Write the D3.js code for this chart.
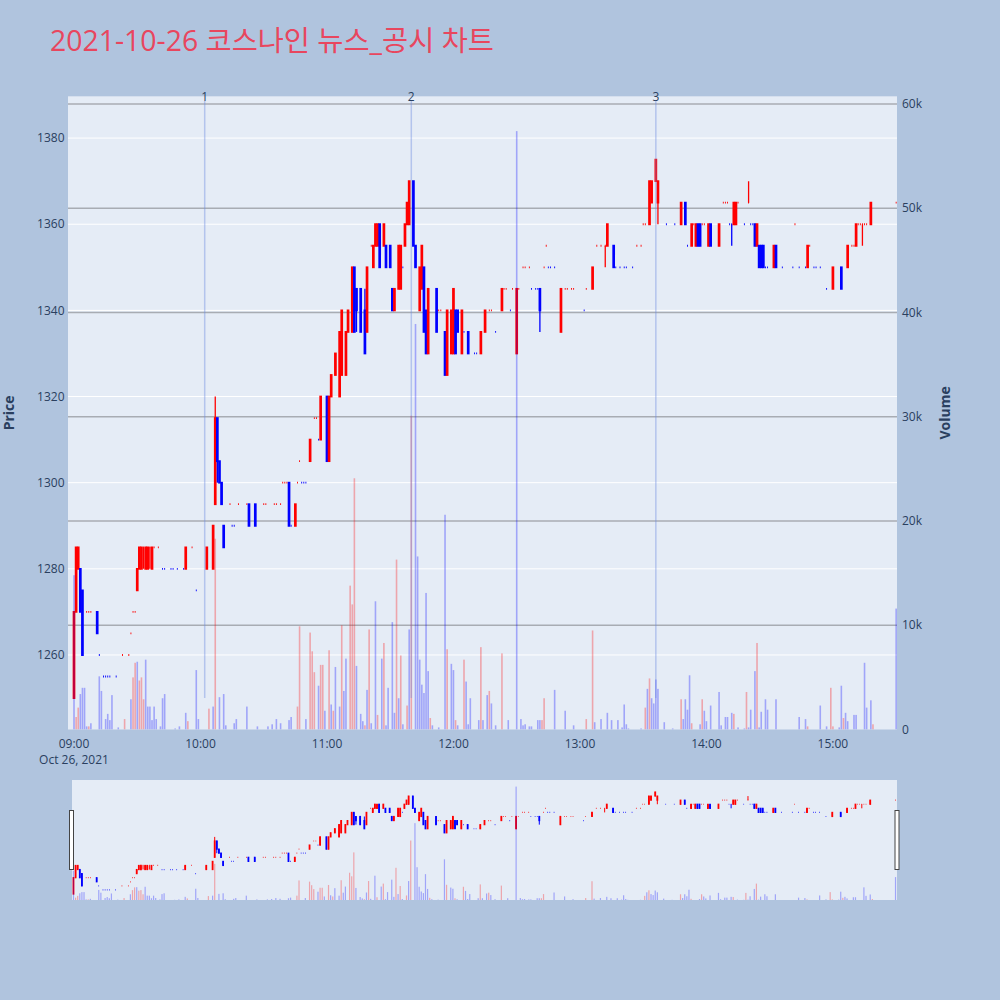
<!DOCTYPE html>
<html><head><meta charset="utf-8">
<script src="https://cdn.jsdelivr.net/npm/d3@7/dist/d3.min.js"></script>
<style>
html,body{margin:0;padding:0;background:#b0c4de;}
svg{display:block;}
text{font-family:"Open Sans","Noto Sans CJK KR",sans-serif;}
</style></head><body>
<svg id="chart" width="1000" height="1000"></svg>
<script>
// ---------------- DATA ----------------
const chartTitle = "2021-10-26 코스나인 뉴스_공시 차트";
const tradeDate = [2021, 9, 26];
const dateLabel = "Oct 26, 2021";

const candleTimes = [
 "09:00","09:01","09:02","09:03","09:04","09:06","09:07","09:08","09:11","09:12","09:14","09:15","09:16","09:17","09:20","09:23","09:26","09:27","09:28","09:29","09:30","09:31","09:32","09:33","09:34","09:35","09:36","09:37","09:38","09:40","09:42","09:43","09:46","09:47","09:49","09:52","09:53","09:56","09:58",
 "10:03","10:06","10:07","10:08","10:09","10:10","10:11","10:14","10:15","10:16","10:18","10:22","10:23","10:26","10:30","10:31","10:35","10:36","10:38","10:39","10:40","10:41","10:42","10:43","10:45","10:46","10:47","10:48","10:49","10:50","10:52","10:54","10:55","10:56","10:57",
 "11:00","11:01","11:02","11:04","11:06","11:07","11:09","11:10","11:12","11:13","11:14","11:16","11:18","11:19","11:21","11:22","11:23","11:24","11:25","11:27","11:28","11:30","11:31","11:32","11:34","11:35","11:36","11:37","11:38","11:39","11:41","11:42","11:44","11:45","11:46","11:47","11:48","11:52","11:53","11:54","11:56","11:57","11:59",
 "12:00","12:01","12:02","12:04","12:05","12:07","12:10","12:11","12:13","12:15","12:17","12:18","12:20","12:23","12:24","12:25","12:27","12:28","12:30","12:31","12:33","12:34","12:36","12:37","12:39","12:40","12:41","12:43","12:44","12:45","12:46","12:48","12:51","12:53","12:54","12:56","12:57",
 "13:02","13:03","13:06","13:08","13:10","13:12","13:13","13:16","13:17","13:19","13:21","13:22","13:25","13:27","13:29","13:30","13:31","13:33","13:34","13:36","13:37","13:41","13:45","13:48","13:50","13:51","13:53","13:54","13:55","13:56","13:57","13:58","13:59",
 "14:01","14:02","14:06","14:08","14:09","14:10","14:11","14:12","14:13","14:14","14:15","14:18","14:20","14:21","14:22","14:23","14:24","14:25","14:26","14:27","14:28","14:29","14:32","14:33","14:36","14:41","14:42","14:44","14:47","14:48","14:49","14:51","14:52","14:54","14:57",
 "15:00","15:04","15:07","15:09","15:10","15:11","15:12","15:13","15:14","15:15","15:16","15:18","15:30"
];
const openP = [
 1250,1270,1280,1280,1275, 1270,1270,1270, 1270,1260, 1255,1255,1255,1255, 1255, 1260, 1260,1265,1270,1270, 1275,1280,1280,1285,1280,1280,1285,1280, 1285, 1285, 1280,1280, 1280,1280, 1280, 1280,1280, 1285, 1275,
 1280, 1280,1295,1315,1305,1300,1290, 1295,1290,1290, 1295, 1295,1295, 1295, 1295,1295, 1295,1295, 1295,1300,1300,1300,1300,1290, 1290,1300,1305,1300,1300,1300, 1305, 1315,1315,1310,1310,
 1320,1305,1320, 1325, 1320,1325, 1325,1335, 1335,1350,1345, 1345, 1340,1335, 1355,1350,1355,1355,1360, 1355,1355, 1355,1345,1340, 1345,1345,1350,1355,1360,1360, 1370,1355, 1340,1345,1350,1340,1330, 1345,1340,1340, 1335,1325, 1330,
 1330,1340,1340, 1330,1335, 1335, 1330,1330, 1330, 1335, 1340,1340, 1335, 1340,1345,1345, 1340,1345, 1330,1345, 1350,1350, 1350,1345, 1345,1345,1345, 1350,1355,1350,1350, 1350, 1335, 1345,1345, 1345,1345,
 1340,1345, 1345, 1355, 1355, 1355,1355, 1355,1350, 1350, 1350,1350, 1350, 1355, 1355,1360,1360, 1360,1365, 1370,1365, 1360, 1360, 1360, 1365,1355, 1355,1360,1355,1360,1360,1360,1360,
 1355,1360, 1355, 1365,1365,1365,1360,1360,1360,1360,1365, 1360, 1365,1360,1360,1360,1355,1355,1355,1355,1350,1350, 1350,1355, 1350, 1350,1360, 1350, 1350,1350,1355, 1350,1350, 1350, 1345,
 1345,1350,1350,1355,1355,1355,1360,1360,1360,1360,1360,1360,1365
];
const highP = [
 1270,1285,1285,1280,1275, 1270,1270,1270, 1270,1260, 1255,1255,1255,1255, 1255, 1260, 1260,1265,1270,1270, 1280,1285,1285,1285,1285,1285,1285,1285, 1285, 1285, 1280,1280, 1280,1280, 1280, 1280,1285, 1285, 1275,
 1285, 1290,1320,1315,1305,1300,1290, 1295,1290,1290, 1295, 1295,1295, 1295, 1295,1295, 1295,1295, 1295,1300,1300,1300,1300,1290, 1295,1300,1305,1300,1300,1300, 1310, 1315,1315,1310,1320,
 1320,1320,1325, 1330, 1335,1340, 1335,1340, 1350,1350,1345, 1345, 1345,1350, 1355,1355,1360,1360,1360, 1360,1355, 1355,1345,1345, 1355,1355,1350,1360,1365,1370, 1370,1355, 1350,1355,1350,1340,1345, 1345,1340,1340, 1335,1340, 1340,
 1345,1340,1340, 1340,1335, 1335, 1330,1330, 1335, 1340, 1340,1340, 1335, 1345,1345,1345, 1340,1345, 1345,1345, 1350,1350, 1350,1345, 1345,1345,1345, 1350,1355,1350,1350, 1350, 1345, 1345,1345, 1345,1345,
 1340,1345, 1350, 1355, 1355, 1355,1360, 1355,1350, 1350, 1350,1350, 1350, 1355, 1355,1360,1360, 1370,1370, 1375,1370, 1360, 1360, 1365, 1365,1355, 1360,1360,1360,1360,1360,1360,1360,
 1360,1360, 1360, 1365,1365,1365,1360,1360,1365,1365,1365, 1360, 1370,1360,1360,1360,1360,1355,1355,1355,1350,1350, 1355,1355, 1350, 1350,1360, 1350, 1350,1355,1355, 1350,1350, 1350, 1345,
 1350,1350,1355,1355,1355,1360,1360,1360,1360,1360,1360,1365,1365
];
const lowP = [
 1250,1270,1280,1270,1260, 1270,1270,1270, 1265,1260, 1255,1255,1255,1255, 1255, 1260, 1260,1265,1270,1270, 1275,1280,1280,1280,1280,1280,1280,1280, 1285, 1285, 1280,1280, 1280,1280, 1280, 1280,1280, 1285, 1275,
 1280, 1280,1295,1300,1300,1295,1285, 1295,1290,1290, 1295, 1295,1290, 1290, 1295,1295, 1295,1295, 1295,1300,1300,1300,1290,1290, 1290,1300,1305,1300,1300,1300, 1305, 1315,1315,1310,1310,
 1305,1305,1320, 1325, 1320,1325, 1325,1335, 1335,1335,1335, 1335, 1330,1335, 1355,1350,1355,1355,1350, 1355,1350, 1350,1340,1340, 1345,1345,1350,1355,1360,1360, 1355,1350, 1340,1345,1335,1330,1330, 1335,1340,1340, 1325,1325, 1330,
 1330,1330,1335, 1330,1335, 1330, 1330,1330, 1330, 1335, 1340,1340, 1335, 1340,1345,1345, 1340,1345, 1330,1345, 1350,1350, 1350,1345, 1345,1345,1335, 1350,1355,1350,1350, 1350, 1335, 1345,1345, 1345,1345,
 1340,1345, 1345, 1355, 1355, 1350,1355, 1350,1350, 1350, 1350,1350, 1350, 1355, 1355,1360,1360, 1360,1365, 1370,1360, 1360, 1360, 1360, 1360,1355, 1355,1360,1355,1355,1355,1360,1360,
 1355,1355, 1355, 1365,1365,1365,1360,1355,1360,1360,1365, 1360, 1365,1360,1360,1355,1355,1350,1350,1350,1350,1350, 1350,1350, 1350, 1350,1360, 1350, 1350,1350,1355, 1350,1350, 1350, 1345,
 1345,1345,1350,1355,1355,1355,1360,1360,1355,1360,1360,1360,1365
];
const closeP = [
 1270,1285,1285,1270,1260, 1270,1270,1270, 1265,1260, 1255,1255,1255,1255, 1255, 1260, 1260,1265,1270,1270, 1280,1285,1285,1285,1285,1285,1285,1285, 1285, 1285, 1280,1280, 1280,1280, 1280, 1280,1285, 1285, 1275,
 1285, 1290,1315,1305,1300,1295,1285, 1295,1290,1290, 1295, 1295,1290, 1290, 1295,1295, 1295,1295, 1295,1300,1300,1300,1290,1290, 1295,1300,1305,1300,1300,1300, 1310, 1315,1315,1310,1320,
 1305,1320,1325, 1330, 1335,1340, 1335,1340, 1350,1335,1340, 1335, 1330,1350, 1355,1355,1360,1360,1350, 1360,1350, 1350,1340,1345, 1355,1355,1350,1360,1365,1370, 1355,1350, 1350,1355,1335,1330,1345, 1335,1340,1340, 1325,1340, 1340,
 1345,1330,1335, 1340,1335, 1330, 1330,1330, 1335, 1340, 1340,1340, 1335, 1345,1345,1345, 1340,1345, 1345,1345, 1350,1350, 1350,1345, 1345,1345,1340, 1350,1355,1350,1350, 1350, 1345, 1345,1345, 1345,1345,
 1340,1345, 1350, 1355, 1355, 1355,1360, 1350,1350, 1350, 1350,1350, 1350, 1355, 1355,1360,1360, 1370,1370, 1375,1370, 1360, 1360, 1365, 1360,1355, 1360,1360,1360,1355,1355,1360,1360,
 1360,1355, 1360, 1365,1365,1365,1360,1360,1365,1365,1365, 1360, 1365,1360,1360,1355,1360,1350,1350,1350,1350,1350, 1355,1350, 1350, 1350,1360, 1350, 1350,1355,1355, 1350,1350, 1350, 1345,
 1350,1345,1355,1355,1355,1360,1360,1360,1360,1360,1360,1365,1365
];

const volTimes = [
 "09:00","09:01","09:02","09:03","09:04","09:05","09:06","09:07","09:08","09:12","09:13","09:15","09:16","09:17","09:18","09:21","09:24","09:27","09:28","09:29","09:30","09:31","09:32","09:33","09:34","09:35","09:36","09:37","09:38","09:39","09:41","09:42","09:43","09:48","09:50","09:53","09:54","09:58","09:59",
 "10:04","10:06","10:07","10:09","10:11","10:12","10:16","10:17","10:22","10:27","10:32","10:34","10:36","10:38","10:42","10:43","10:46","10:47","10:50","10:52","10:53","10:54","10:56","10:57","10:58","10:59",
 "11:01","11:02","11:03","11:04","11:06","11:07","11:08","11:09","11:11","11:12","11:13","11:14","11:16","11:17","11:18","11:19","11:20","11:21","11:23","11:24","11:26","11:27","11:28","11:29","11:31","11:32","11:33","11:34","11:35","11:36","11:38","11:39","11:40","11:42","11:43","11:44","11:45","11:46","11:47","11:48","11:49","11:50","11:53","11:56","11:57","11:59",
 "12:00","12:01","12:02","12:05","12:06","12:07","12:08","12:12","12:13","12:14","12:16","12:17","12:18","12:20","12:23","12:26","12:30","12:32","12:33","12:34","12:36","12:37","12:40","12:41","12:42","12:43","12:48","12:53","12:57",
 "13:03","13:06","13:07","13:10","13:13","13:15","13:18","13:20","13:21","13:22","13:23","13:29","13:31","13:32","13:33","13:34","13:35","13:36","13:37","13:40","13:44","13:48","13:49","13:50","13:51","13:52","13:53","13:57","13:58","13:59",
 "14:00","14:02","14:06","14:07","14:09","14:10","14:12","14:13","14:15","14:18","14:19","14:20","14:21","14:23","14:24","14:25","14:26","14:28","14:29","14:33","14:44","14:47","14:48","14:54","14:57","14:59",
 "15:00","15:03","15:04","15:05","15:06","15:07","15:10","15:11","15:15","15:16","15:18","15:19","15:30"
];
const volumes = [
 14800,1200,2100,3400,4000,4000,300,300,600,5100,3700,1000,1500,900,3300,200,1000,2900,5000,6400,6500,4700,5000,2900,6700,2200,2200,900,2200,1000,300,3000,3400,100,300,1600,800,5700,1000,
 2000,2200,18300,3100,3400,400,600,1000,2200,300,300,500,1000,600,900,1200,2200,9900,1000,9300,7500,5500,4200,6200,6200,1800,
 7600,2400,1800,6000,2200,10000,3700,6800,13800,12000,24100,6100,1500,800,400,3800,9600,600,12300,1400,6800,8300,400,4000,10300,1600,16300,3000,7100,500,2300,9600,30100,38900,16600,6700,4300,3500,13100,5600,1100,400,200,20600,7700,6300,
 5700,900,400,6700,4600,500,3000,900,7900,900,3300,3700,2500,400,7300,900,57400,1000,400,500,300,300,900,900,900,3000,3800,1800,400,
 1000,9500,700,1000,1600,900,900,200,2400,500,100,100,2100,3900,4900,3000,2500,4800,3900,700,100,2900,1000,2900,1900,5200,600,500,2900,1800,
 800,2300,3600,400,1200,1200,1600,1500,200,100,3600,200,1900,5600,8300,200,1700,2900,1900,2900,1200,1000,300,2300,300,4000,
 300,200,4200,1100,1600,800,1400,1400,6400,2100,2800,500,11600
];
// +1 = buy-side (red), -1 = sell-side (blue)
const volSides = [
 -1,1,1,-1,-1,-1,-1,1,-1,-1,-1,-1,-1,-1,-1,-1,1,-1,1,1,-1,1,1,1,-1,-1,-1,-1,-1,-1,-1,-1,-1,-1,-1,-1,1,-1,-1,
 1,-1,1,-1,-1,-1,-1,-1,-1,-1,-1,-1,-1,-1,-1,-1,1,1,-1,1,1,1,-1,1,1,-1,
 1,-1,1,-1,-1,1,-1,-1,1,1,1,-1,-1,-1,1,-1,1,-1,-1,1,-1,1,-1,-1,-1,-1,1,-1,1,-1,1,-1,1,-1,-1,-1,-1,-1,-1,-1,1,-1,-1,-1,1,-1,
 -1,1,-1,1,-1,-1,-1,-1,1,-1,-1,1,-1,-1,1,-1,-1,-1,-1,-1,-1,-1,-1,-1,1,1,-1,-1,-1,
 1,1,-1,-1,-1,-1,-1,-1,-1,-1,-1,-1,1,-1,1,-1,-1,-1,-1,-1,-1,1,-1,-1,-1,-1,1,-1,1,-1,
 -1,-1,-1,-1,-1,-1,-1,1,-1,-1,1,-1,-1,-1,1,-1,-1,-1,-1,-1,-1,-1,1,-1,-1,1,
 1,-1,-1,1,-1,-1,-1,-1,-1,-1,-1,1,-1
];

const newsTimes = ["10:02", "11:40", "13:36"];
const newsLabels = ["1", "2", "3"];
const priceTicks = [1260, 1280, 1300, 1320, 1340, 1360, 1380];
const volTicks = [0, 10000, 20000, 30000, 40000, 50000, 60000];
const timeTicks = ["09:00", "10:00", "11:00", "12:00", "13:00", "14:00", "15:00"];

// ---------------- LAYOUT ----------------
const C = {bg: "#b0c4de", plotBg: "#e5ecf6", inc: "#ff0000", dec: "#0000ff", text: "#2a3f5f"};
const P = {l: 68, r: 897, t: 96.3, b: 729.5};
const S = {l: 72, r: 897, t: 780, b: 900};

const toDate = (s, sec) => { const [h, m] = s.split(":").map(Number); return new Date(tradeDate[0], tradeDate[1], tradeDate[2], h, m, sec || 0); };

const x = d3.scaleTime().domain([toDate("08:57", 9), toDate("15:30", 24)]).range([P.l, P.r]);
const yP = d3.scaleLinear().domain([1242.7, 1389.7]).range([P.b, P.t]);
const yV = d3.scaleLinear().domain([0, 60740]).range([P.b, P.t]);
const xs = d3.scaleTime().domain([toDate("08:59", 18), toDate("15:30", 42)]).range([S.l, S.r]);
const yPs = d3.scaleLinear().domain(yP.domain()).range([S.b, S.t]);
const yVs = d3.scaleLinear().domain(yV.domain()).range([S.b, S.t]);

// candles with plotly-like direction rule
const n = Math.min(candleTimes.length, openP.length, highP.length, lowP.length, closeP.length);
const candles = [];
let prevC = null, prevInc = true;
for (let i = 0; i < n; i++) {
  const o = openP[i], h = highP[i], l = lowP[i], c = closeP[i];
  let inc;
  if (c > o) inc = true; else if (c < o) inc = false;
  else if (prevC !== null && c !== prevC) inc = c > prevC; else inc = prevInc;
  candles.push({t: toDate(candleTimes[i]), o, h, l, c, inc});
  prevC = c; prevInc = inc;
}
const nv = Math.min(volTimes.length, volumes.length, volSides.length);
const vols = [];
for (let i = 0; i < nv; i++) vols.push({t: toDate(volTimes[i]), v: volumes[i], up: volSides[i] > 0});

const svg = d3.select("#chart");
svg.append("rect").attr("width", 1000).attr("height", 1000).attr("fill", C.bg);

const defs = svg.append("defs");
defs.append("clipPath").attr("id", "clipMain").append("rect")
  .attr("x", P.l).attr("y", P.t).attr("width", P.r - P.l).attr("height", P.b - P.t);
defs.append("clipPath").attr("id", "clipSlider").append("rect")
  .attr("x", S.l).attr("y", S.t).attr("width", S.r - S.l).attr("height", S.b - S.t);

// plot background
svg.append("rect").attr("x", P.l).attr("y", P.t).attr("width", P.r - P.l).attr("height", P.b - P.t).attr("fill", C.plotBg);

// price gridlines (white)
svg.append("g").selectAll("line").data(priceTicks).join("line")
  .attr("x1", P.l).attr("x2", P.r).attr("y1", d => yP(d)).attr("y2", d => yP(d))
  .attr("stroke", "#ffffff").attr("stroke-width", 1);
// volume gridlines (grey)
svg.append("g").selectAll("line").data(volTicks.filter(d => d > 0)).join("line")
  .attr("x1", P.l).attr("x2", P.r).attr("y1", d => yV(d)).attr("y2", d => yV(d))
  .attr("stroke", "#a8acb3").attr("stroke-width", 1.5);

function drawCandles(g, xsc, ysc, bw, sw, ww) {
  const sel = g.selectAll("g.cd").data(candles).join("g").attr("class", "cd");
  sel.append("line")
    .attr("x1", d => xsc(d.t)).attr("x2", d => xsc(d.t))
    .attr("y1", d => ysc(d.h)).attr("y2", d => ysc(d.l))
    .attr("stroke", d => d.inc ? C.inc : C.dec).attr("stroke-width", ww);
  sel.append("path")
    .attr("d", d => {
      const cx = xsc(d.t), y0 = ysc(d.o), y1 = ysc(d.c);
      return `M${cx - bw / 2},${y0}H${cx + bw / 2}V${y1}H${cx - bw / 2}Z`;
    })
    .attr("fill", d => d.inc ? C.inc : C.dec)
    .attr("stroke", d => d.inc ? C.inc : C.dec).attr("stroke-width", sw);
}
function drawVolumes(g, xsc, ysc, w, op) {
  g.selectAll("rect").data(vols).join("rect")
    .attr("x", d => xsc(d.t) - w / 2).attr("width", w)
    .attr("y", d => ysc(d.v)).attr("height", d => ysc(0) - ysc(d.v))
    .attr("fill", d => d.up ? C.inc : C.dec).attr("fill-opacity", op);
}

const main = svg.append("g").attr("clip-path", "url(#clipMain)");
drawCandles(main.append("g"), x, yP, 0.9, 1.8, 1.3);
drawVolumes(main.append("g"), x, yV, 1.6, 0.3);

// news markers
const news = newsTimes.map((t, i) => ({t: toDate(t), label: newsLabels[i]}));
svg.append("g").selectAll("line").data(news).join("line")
  .attr("x1", d => x(d.t)).attr("x2", d => x(d.t))
  .attr("y1", P.t + 4.5).attr("y2", yP(1250))
  .attr("stroke", "rgb(110,140,225)").attr("stroke-opacity", 0.42).attr("stroke-width", 1.5);
svg.append("g").selectAll("text").data(news).join("text")
  .attr("x", d => x(d.t)).attr("y", P.t + 4.3)
  .attr("text-anchor", "middle").attr("font-size", 12).attr("fill", C.text)
  .text(d => d.label);

// left axis
svg.append("g").selectAll("text").data(priceTicks).join("text")
  .attr("x", P.l - 3.5).attr("y", d => yP(d)).attr("dy", "0.35em")
  .attr("text-anchor", "end").attr("font-size", 12).attr("fill", C.text).text(d => d);
// right axis
const vfmt = d => d === 0 ? "0" : (d / 1000) + "k";
svg.append("g").selectAll("text").data(volTicks).join("text")
  .attr("x", P.r + 5).attr("y", d => yV(d)).attr("dy", "0.35em")
  .attr("text-anchor", "start").attr("font-size", 12).attr("fill", C.text).text(vfmt);
// x axis
svg.append("g").selectAll("text").data(timeTicks).join("text")
  .attr("x", d => x(toDate(d))).attr("y", 748)
  .attr("text-anchor", "middle").attr("font-size", 12).attr("fill", C.text).text(d => d);
svg.append("text").attr("x", x(toDate(timeTicks[0]))).attr("y", 763.5)
  .attr("text-anchor", "middle").attr("font-size", 12).attr("fill", C.text).text(dateLabel);

// axis titles
svg.append("text").attr("transform", `translate(14,${(P.t + P.b) / 2}) rotate(-90)`)
  .attr("text-anchor", "middle").attr("font-size", 14).attr("font-weight", "bold").attr("fill", C.text).text("Price");
svg.append("text").attr("transform", `translate(950,${(P.t + P.b) / 2}) rotate(-90)`)
  .attr("text-anchor", "middle").attr("font-size", 14).attr("font-weight", "bold").attr("fill", C.text).text("Volume");

// title
svg.append("text").attr("x", 50).attr("y", 50.5).attr("font-size", 28.4).attr("fill", "#e8465e").text(chartTitle);

// range slider
svg.append("rect").attr("x", S.l).attr("y", S.t).attr("width", S.r - S.l).attr("height", S.b - S.t).attr("fill", C.plotBg);
const sl = svg.append("g").attr("clip-path", "url(#clipSlider)");
drawCandles(sl.append("g"), xs, yPs, 0.6, 1.2, 1);
drawVolumes(sl.append("g"), xs, yVs, 1.2, 0.3);
[S.l - 2.5, S.r - 2].forEach(hx => {
  svg.append("rect").attr("x", hx).attr("y", 810.5).attr("width", 4).attr("height", 59)
    .attr("fill", "#ffffff").attr("stroke", "#444444").attr("stroke-width", 1);
});
</script></body></html>
